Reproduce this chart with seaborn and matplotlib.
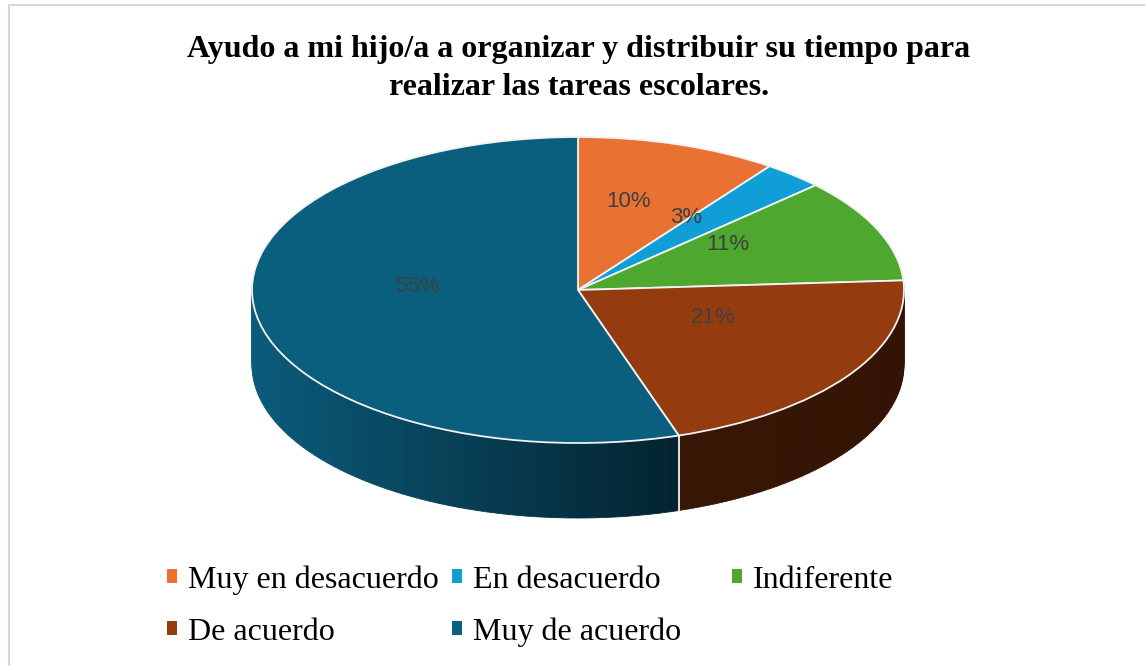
import numpy as np
import matplotlib
matplotlib.use("Agg")
import matplotlib.pyplot as plt
import matplotlib.colors as mcolors
from matplotlib.patches import Patch, Rectangle
import seaborn as sns

# ---- data ----
categories = ["Muy en desacuerdo", "En desacuerdo", "Indiferente", "De acuerdo", "Muy de acuerdo"]
values = [10, 3, 11, 21, 55]
title = "Ayudo a mi hijo/a a organizar y distribuir su tiempo para\nrealizar las tareas escolares."

top_colors = ["#E97132", "#0F9ED5", "#4EA72E", "#943B0F", "#0A5E7E"]
side_left = ["#A9501F", "#0B76A0", "#3A7F21", "#421C08", "#0B5B7B"]
side_right = ["#6E3312", "#064A66", "#234F14", "#331404", "#000507"]

sns.set_theme(style="white")
plt.rcParams["font.family"] = ["DejaVu Sans"]

W, H = 1145, 666
fig = plt.figure(figsize=(W / 100, H / 100), dpi=100)
fig.patch.set_facecolor("white")

# geometry (pixels)
cx, cy = 578, 290
rx, ry = 326, 153
depth = 75
x0, x1 = -1.1, 1.1
y0, y1 = -1.8, 1.2
ax = fig.add_axes([(cx + x0 * rx) / W, ((H - cy) + y0 * ry) / H,
                   (x1 - x0) * rx / W, (y1 - y0) * ry / H])
d = depth / ry

# ---- side of the 3D pie (stacked layers with horizontal shading) ----
total = float(sum(values))
sub_vals, sub_cols = [], []
cum = 0.0
for i, v in enumerate(values):
    cl = np.array(mcolors.to_rgb(side_left[i]))
    cr = np.array(mcolors.to_rgb(side_right[i]))
    k = max(4, int(v * 2))
    for j in range(k):
        f = (cum + (j + 0.5) * v / k) / total
        xs = np.sin(2 * np.pi * f)
        t = np.clip((xs + 1) / 2, 0, 1)
        sub_vals.append(v / k)
        sub_cols.append(tuple(cl * (1 - t) + cr * t))
    cum += v

for yy in np.linspace(-d, -0.005, 40):
    ws, _ = ax.pie(sub_vals, colors=sub_cols, startangle=90, counterclock=False,
                   center=(0, yy), radius=1, frame=True)
    for w in ws:
        w.set_edgecolor(w.get_facecolor())
        w.set_linewidth(0.6)

# ---- top face ----
wedges, texts, autotexts = ax.pie(
    values, colors=top_colors, startangle=90, counterclock=False,
    center=(0, 0), radius=1, frame=True, autopct="%1.0f%%", pctdistance=0.5,
    wedgeprops=dict(edgecolor="#F2F2F2", linewidth=1.3),
    textprops=dict(color="#404040", fontsize=16, family=["Liberation Sans", "DejaVu Sans"]))
for t in autotexts:
    px, py = t.get_position()
    t.set_position((px, py + 0.1))

# white seams on the visible side
cum = 0.0
for v in values[:-1]:
    cum += v
    th = 2 * np.pi * cum / total
    xb, yb = np.sin(th), np.cos(th)
    if yb < -0.05:
        ax.plot([xb, xb], [yb, yb - d], color="#F2F2F2", lw=1.3, zorder=5)

ax.set_xlim(x0, x1)
ax.set_ylim(y0, y1)
ax.set_aspect("auto")
ax.axis("off")

# ---- title ----
fig.text(579 / W, 1 - 68.5 / H, title, ha="center", va="center", fontsize=23,
         fontweight="bold", family=["Liberation Serif", "DejaVu Serif"],
         linespacing=1.38, color="black")

# ---- legend (3 columns, 2 rows) ----
leg_x = [167, 452, 732]
leg_y = [580, 632]
handles = [Patch(facecolor=c, edgecolor="none") for c in top_colors]
for i, (h, lab) in enumerate(zip(handles, categories)):
    col, row = i % 3, i // 3
    fig.legend(handles=[h], labels=[lab], loc="center left",
               bbox_to_anchor=(leg_x[col] / W, 1 - leg_y[row] / H),
               frameon=False, prop=dict(family="Liberation Serif", size=23),
               labelcolor="black",
               handlelength=0.31, handleheight=0.31, handletextpad=0.35,
               borderpad=0, borderaxespad=0)

# chart border
fig.patches.append(Rectangle((9 / W, -0.1), 1.2, 1.1 - 5.5 / H, transform=fig.transFigure,
                             fill=False, edgecolor="#D9D9D9", lw=1.5))

fig.savefig("out.png", dpi=100, facecolor="white")
